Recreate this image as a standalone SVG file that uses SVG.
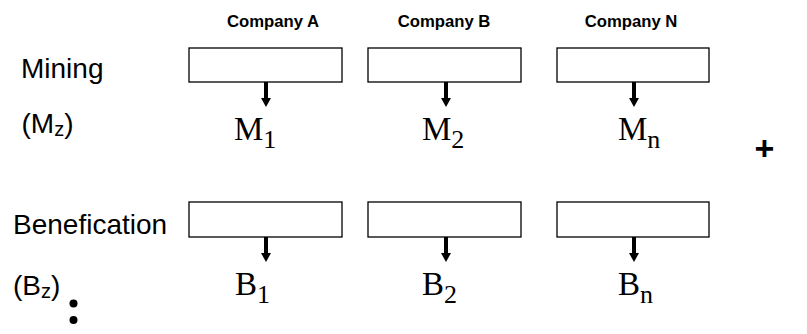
<svg xmlns="http://www.w3.org/2000/svg" width="807" height="334" viewBox="0 0 807 334">
<style>
.box{fill:#fff;stroke:#000;stroke-width:1.3}
.co{font-family:"Liberation Sans",Arial,sans-serif;font-weight:bold;font-size:16.7px;fill:#000;text-anchor:middle}
.lbl{font-family:"Liberation Sans",Arial,sans-serif;font-size:28px;fill:#000}
.sub{font-size:20px}
.var{font-family:"Liberation Serif","Times New Roman",serif;font-size:33px;fill:#000}
.vs{font-size:26px}
.arr{stroke:#000;stroke-width:4;fill:none}
</style>
<defs>
<marker id="ah" markerUnits="userSpaceOnUse" markerWidth="11" markerHeight="10" refX="0" refY="5.5" orient="auto" viewBox="0 0 10 11">
<path d="M0,0 L10,5.5 L0,11 z" fill="#000"/>
</marker>
</defs>
<rect width="807" height="334" fill="#fff"/>
<text class="co" x="273" y="27">Company A</text>
<text class="co" x="444" y="27">Company B</text>
<text class="co" x="631" y="27">Company N</text>
<text class="lbl" x="21" y="78">Mining</text>
<text class="lbl" x="21.5" y="133">(M<tspan class="sub" dy="3">z</tspan><tspan dy="-3">)</tspan></text>
<text class="lbl" x="13" y="234">Benefication</text>
<text class="lbl" x="13" y="295">(B<tspan class="sub" dy="3">z</tspan><tspan dy="-3">)</tspan></text>
<circle cx="73.5" cy="303.5" r="4" fill="#000"/>
<circle cx="73.5" cy="320" r="4" fill="#000"/>
<text x="764.5" y="159.5" font-family="Liberation Sans,Arial,sans-serif" font-weight="bold" font-size="34" text-anchor="middle">+</text>
<g id="mA"><rect class="box" x="189" y="48" width="153" height="34"/></g>
<g id="mB"><rect class="box" x="368" y="48" width="153" height="34"/></g>
<g id="mN"><rect class="box" x="557" y="48" width="152" height="34"/></g>
<g id="bA"><rect class="box" x="189" y="202" width="153" height="35"/></g>
<g id="bB"><rect class="box" x="368" y="202" width="153" height="35"/></g>
<g id="bN"><rect class="box" x="557" y="202" width="152" height="35"/></g>
<g id="connectors">
<line class="arr" x1="266" y1="82" x2="266" y2="98" marker-end="url(#ah)"/>
<line class="arr" x1="446" y1="82" x2="446" y2="98" marker-end="url(#ah)"/>
<line class="arr" x1="634" y1="82" x2="634" y2="98" marker-end="url(#ah)"/>
<line class="arr" x1="266" y1="237" x2="266" y2="253" marker-end="url(#ah)"/>
<line class="arr" x1="446" y1="237" x2="446" y2="253" marker-end="url(#ah)"/>
<line class="arr" x1="634" y1="237" x2="634" y2="253" marker-end="url(#ah)"/>
</g>
<text class="var" x="234" y="140">M<tspan class="vs" dy="8">1</tspan></text>
<text class="var" x="422" y="140">M<tspan class="vs" dy="8">2</tspan></text>
<text class="var" x="618" y="140">M<tspan class="vs" dy="8">n</tspan></text>
<text class="var" x="235" y="295">B<tspan class="vs" dy="8">1</tspan></text>
<text class="var" x="422" y="295">B<tspan class="vs" dy="8">2</tspan></text>
<text class="var" x="618" y="295">B<tspan class="vs" dy="8">n</tspan></text>
</svg>
